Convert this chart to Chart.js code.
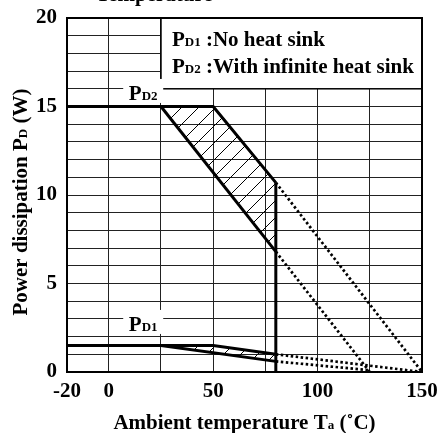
<!DOCTYPE html>
<html>
<head>
<meta charset="utf-8">
<script src="https://cdn.jsdelivr.net/npm/chart.js@4/dist/chart.umd.min.js"></script>
<style>
  html, body { margin: 0; padding: 0; background: #fff; }
  #wrap { width: 440px; height: 433px; }
</style>
</head>
<body>
<div id="wrap"><canvas id="chart" width="440" height="433"></canvas></div>
<script>
// axis grid and labels
const xGrid = [-20, 0, 25, 50, 75, 100, 125, 150];
const xLabels = [-20, 0, 50, 100, 150];
const yLabels = [0, 5, 10, 15, 20];

// PD2 : with infinite heat sink
const pd2Upper = [{ x: -20, y: 15 }, { x: 25, y: 15 }, { x: 50, y: 15 }, { x: 80, y: 10.7 }];
const pd2Lower = [{ x: 25, y: 15 }, { x: 80, y: 6.8 }];
const pd2UpperDerate = [{ x: 80, y: 10.7 }, { x: 150, y: 0 }];
const pd2LowerDerate = [{ x: 80, y: 6.8 }, { x: 125, y: 0 }];
const limit80 = [{ x: 80, y: 10.7 }, { x: 80, y: 0 }];

// PD1 : no heat sink
const pd1Upper = [{ x: -20, y: 1.5 }, { x: 25, y: 1.5 }, { x: 50, y: 1.5 }, { x: 80, y: 1.0 }];
const pd1Lower = [{ x: 25, y: 1.5 }, { x: 80, y: 0.6 }];
const pd1UpperDerate = [{ x: 80, y: 1.0 }, { x: 150, y: 0 }];
const pd1LowerDerate = [{ x: 80, y: 0.6 }, { x: 125, y: 0.1 }];

const FONT = "'Liberation Serif', 'Times New Roman', serif";

// hatch pattern "/"
const makeHatch = () => {
  const c = document.createElement("canvas");
  c.width = 17;
  c.height = 17;
  const g = c.getContext("2d");
  g.strokeStyle = "#000";
  g.lineWidth = 1;
  g.beginPath();
  g.moveTo(-1, 18);
  g.lineTo(18, -1);
  g.stroke();
  return g.createPattern(c, "repeat");
};
const hatch = makeHatch();

// band between upper and lower curve from 25 to 80
const band = (upper, lower) => {
  const top = upper.filter((p) => p.x >= 25);
  return top.concat(lower.slice().reverse());
};

const solid = (data) => ({
  data,
  showLine: true,
  borderColor: "#000",
  borderWidth: 3,
  pointRadius: 0,
  fill: false,
  order: 0,
});
const dotted = (data) => ({
  data,
  showLine: true,
  borderColor: "#000",
  borderWidth: 2.7,
  borderDash: [2.5, 2.5],
  pointRadius: 0,
  fill: false,
  order: 1,
});
const hatched = (data) => ({
  data,
  showLine: true,
  borderWidth: 0,
  borderColor: "rgba(0,0,0,0)",
  backgroundColor: hatch,
  pointRadius: 0,
  fill: "shape",
  order: 5,
});

// draws text pieces of mixed size on one baseline
const drawParts = (ctx, x, y, parts, align) => {
  const widths = parts.map(([t, s]) => {
    ctx.font = "bold " + s + "px " + FONT;
    return ctx.measureText(t).width;
  });
  const total = widths.reduce((a, b) => a + b, 0);
  let cx = align === "center" ? x - total / 2 : x;
  ctx.textAlign = "left";
  ctx.textBaseline = "alphabetic";
  parts.forEach(([t, s], i) => {
    ctx.font = "bold " + s + "px " + FONT;
    ctx.fillText(t, cx, y);
    cx += widths[i];
  });
  return total;
};

const decor = {
  id: "decor",
  afterDatasetsDraw(chart) {
    const { ctx, chartArea: a, scales } = chart;
    const sx = scales.x;
    const sy = scales.y;
    ctx.save();

    // legend box
    const bx = sx.getPixelForValue(25);
    const by = sy.getPixelForValue(16);
    ctx.fillStyle = "#fff";
    ctx.fillRect(bx, a.top, a.right - bx, by - a.top);
    ctx.strokeStyle = "#000";
    ctx.lineWidth = 1.5;
    ctx.strokeRect(bx, a.top, a.right - bx, by - a.top);
    ctx.fillStyle = "#000";
    drawParts(ctx, bx + 11, 46, [["P", 21], ["D1", 13], [" :No heat sink", 21]]);
    drawParts(ctx, bx + 11, 73, [["P", 21], ["D2", 13], [" :With infinite heat sink", 21]]);

    // curve labels on white boxes
    [["D2", 15.37], ["D1", 2.32]].forEach(([sub, v]) => {
      const base = sy.getPixelForValue(v);
      const cx = sx.getPixelForValue(16.5);
      ctx.fillStyle = "#fff";
      ctx.fillRect(cx - 20, base - 21, 40, 24);
      ctx.fillStyle = "#000";
      drawParts(ctx, cx, base, [["P", 21], [sub, 13]], "center");
    });

    // frame
    ctx.strokeStyle = "#000";
    ctx.lineWidth = 2;
    ctx.strokeRect(a.left, a.top, a.right - a.left, a.bottom - a.top);

    // axis titles
    drawParts(ctx, (a.left + a.right) / 2, 429,
      [["Ambient temperature T", 21], ["a", 13], [" (\u02daC)", 21]], "center");
    ctx.translate(27, (a.top + a.bottom) / 2 + 7);
    ctx.rotate(-Math.PI / 2);
    drawParts(ctx, 0, 0, [["Power dissipation P", 21], ["D", 13], [" (W)", 21]], "center");
    ctx.restore();

    // title cut off at the top edge
    ctx.save();
    ctx.fillStyle = "#000";
    drawParts(ctx, 96, 1, [["Temperature", 21]]);
    ctx.restore();
  },
};

new Chart(document.getElementById("chart"), {
  type: "scatter",
  data: {
    datasets: [
      solid(pd2Upper),
      solid(pd2Lower),
      solid(limit80),
      solid(pd1Upper),
      solid(pd1Lower),
      dotted(pd2UpperDerate),
      dotted(pd2LowerDerate),
      dotted(pd1UpperDerate),
      dotted(pd1LowerDerate),
      hatched(band(pd2Upper, pd2Lower)),
      hatched(band(pd1Upper, pd1Lower)),
    ],
  },
  options: {
    responsive: false,
    animation: false,
    layout: { padding: { left: 0, right: 18, top: 18, bottom: 0 } },
    plugins: { legend: { display: false }, tooltip: { enabled: false } },
    scales: {
      x: {
        type: "linear",
        min: -20,
        max: 150,
        afterBuildTicks: (scale) => {
          scale.ticks = xGrid.map((v) => ({ value: v }));
        },
        afterFit: (scale) => {
          scale.height = 61;
          scale.paddingLeft = 0;
          scale.paddingRight = 0;
        },
        ticks: {
          autoSkip: false,
          maxRotation: 0,
          padding: 7,
          color: "#000",
          font: { family: FONT, weight: "bold", size: 21 },
          callback: (v) => (xLabels.includes(v) ? String(v) : ""),
        },
        grid: { color: "#222", lineWidth: 1, drawTicks: false },
        border: { display: false },
      },
      y: {
        type: "linear",
        min: 0,
        max: 20,
        afterFit: (scale) => {
          scale.width = 67;
          scale.paddingTop = 0;
          scale.paddingBottom = 0;
        },
        ticks: {
          stepSize: 1,
          autoSkip: false,
          padding: 10,
          color: "#000",
          font: { family: FONT, weight: "bold", size: 21 },
          callback: (v) => (yLabels.includes(v) ? String(v) : ""),
        },
        grid: { color: "#222", lineWidth: 1, drawTicks: false },
        border: { display: false },
      },
    },
  },
  plugins: [decor],
});
</script>
</body>
</html>
